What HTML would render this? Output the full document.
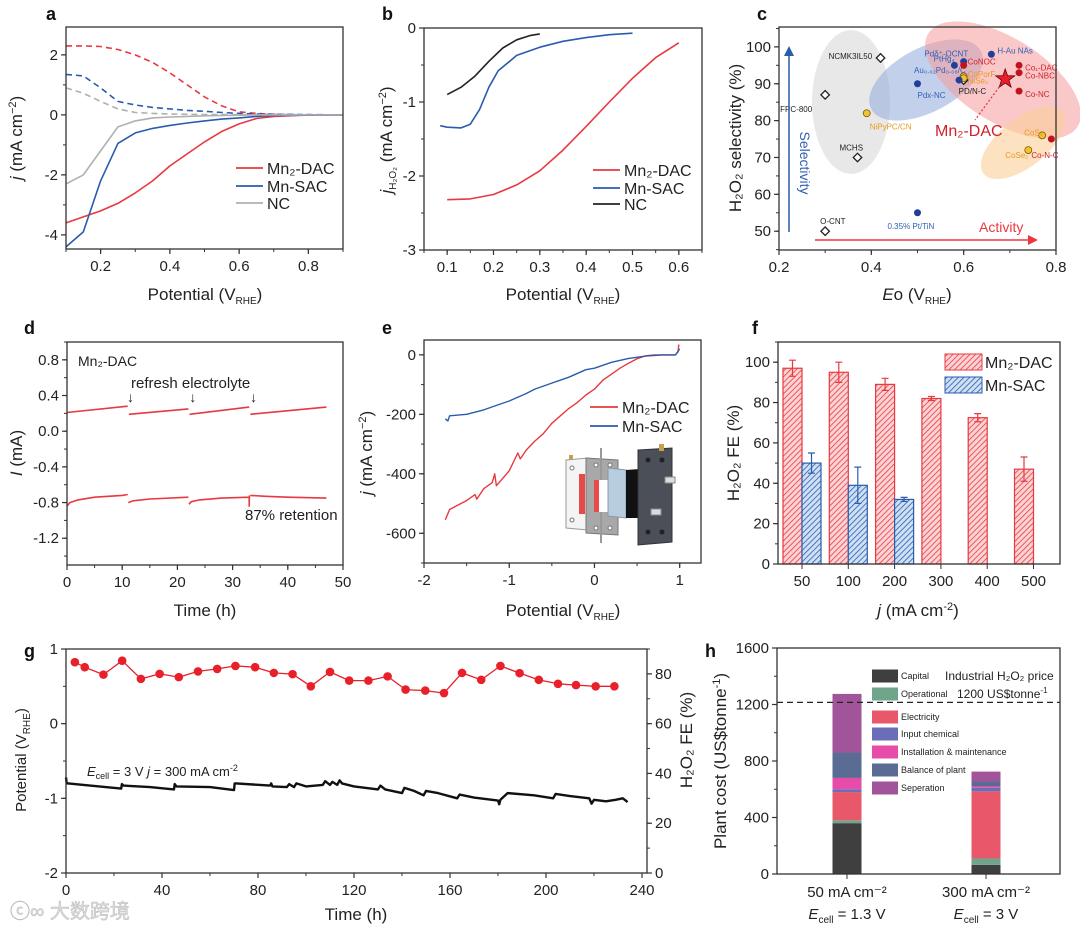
<!DOCTYPE html>
<html><head><meta charset="utf-8">
<style>
html,body{margin:0;padding:0;background:#fff;}
svg{display:block;font-family:"Liberation Sans","Noto Sans CJK SC",sans-serif;}
.tk{font-size:15px;fill:#222;}
.tt{font-size:17px;fill:#222;}
.pl{font-size:18px;font-weight:bold;fill:#111;}
.sm{font-size:7px;}
</style></head>
<body>
<svg id="fig" width="1080" height="937" viewBox="0 0 1080 937" xmlns="http://www.w3.org/2000/svg">
<defs>
<pattern id="hatchR" patternUnits="userSpaceOnUse" width="4" height="4" patternTransform="rotate(45)">
<rect width="4" height="4" fill="#fbd3d5"/><line x1="0" y1="0" x2="0" y2="4" stroke="#e8393f" stroke-width="1.6"/></pattern>
<pattern id="hatchB" patternUnits="userSpaceOnUse" width="4" height="4" patternTransform="rotate(45)">
<rect width="4" height="4" fill="#cfe0f5"/><line x1="0" y1="0" x2="0" y2="4" stroke="#2a5cad" stroke-width="1.6"/></pattern>
</defs>
</svg>
<script>
// ---------- DATA ----------
// panel a
const aX = [0.1,0.15,0.2,0.25,0.3,0.35,0.4,0.45,0.5,0.55,0.6,0.65,0.7,0.8,0.9];
const aDashRed  = [2.3,2.3,2.28,2.18,2.0,1.75,1.4,1.0,0.6,0.3,0.1,0.05,0.02,0,0];
const aDashBlue = [1.35,1.3,0.9,0.45,0.33,0.25,0.2,0.15,0.12,0.08,0.05,0.03,0.02,0.01,0];
const aDashGray = [0.9,0.72,0.45,0.2,0.08,0.05,0.03,0.02,0.01,0.01,0,0,0,0,0];
const aRed  = [-3.6,-3.4,-3.2,-2.95,-2.6,-2.2,-1.7,-1.3,-0.9,-0.55,-0.3,-0.12,-0.05,0,0];
const aBlue = [-4.4,-3.9,-2.2,-0.95,-0.6,-0.45,-0.35,-0.27,-0.2,-0.14,-0.1,-0.05,-0.02,-0.01,0];
const aGray = [-2.3,-2.0,-1.2,-0.4,-0.2,-0.1,-0.07,-0.05,-0.03,-0.02,-0.01,0,0,0,0];
// panel b
const bRedX = [0.1,0.15,0.2,0.25,0.3,0.35,0.4,0.45,0.5,0.55,0.6];
const bRedY = [-2.32,-2.31,-2.25,-2.12,-1.93,-1.65,-1.33,-1.0,-0.68,-0.4,-0.2];
const bBlueX = [0.085,0.1,0.13,0.15,0.17,0.19,0.21,0.25,0.3,0.35,0.4,0.45,0.5];
const bBlueY = [-1.32,-1.34,-1.35,-1.3,-1.1,-0.8,-0.58,-0.37,-0.26,-0.18,-0.13,-0.09,-0.07];
const bBlackX = [0.1,0.13,0.16,0.19,0.22,0.25,0.28,0.3];
const bBlackY = [-0.9,-0.8,-0.65,-0.45,-0.27,-0.16,-0.1,-0.08];
// panel c
const cE0 = [0.42,0.30,0.37,0.30,0.60, 0.39,0.60,0.60,0.77,0.74, 0.66,0.58,0.60,0.59,0.50,0.50, 0.72,0.72,0.72,0.60,0.79];
const cSel = [97,87,70,50,91, 82,92,91.5,76,72, 98,95,96,91,90,55, 95,93,88,95,75];
const cType = ['o','o','o','o','o','y','y','y','y','y','b','b','b','b','b','b','r','r','r','r','r'];
const cLabels = ['NCMK3IL50','FPC-800','MCHS','O-CNT','PD/N-C','NiPyPC/CN','NiSe₂','CoPorF','CoS₂','CoSe₂','H-Au NAs','Pdδ⁺-OCNT','PtHg₄','Au₀.₀₂Pd₀.₀₈/C','Pdx-NC','0.35% Pt/TiN','Co₁-DAC','Co-NBC','Co-NC','CoNOC','Co-N-C'];
const cStarE0 = 0.69, cStarSel = 91.3;
// panel d
const dUpT = [[0,11],[11.2,22],[22.2,33],[33.2,47]];
const dUpV = [[0.21,0.28],[0.19,0.25],[0.19,0.27],[0.19,0.27]];
const dLoT = [[0,0.5,2,5,10,11],[11.1,12,15,22],[22.1,22.5,24,28,33,33,33.05],[33.2,36,40,47]];
const dLoV = [[-0.84,-0.8,-0.77,-0.74,-0.72,-0.71],[-0.8,-0.78,-0.76,-0.74],[-0.82,-0.79,-0.77,-0.75,-0.74,-0.84,-0.72],[-0.72,-0.73,-0.74,-0.75]];
// panel e
const eRedX = [-1.75,-1.7,-1.6,-1.5,-1.4,-1.38,-1.3,-1.2,-1.17,-1.15,-1.0,-0.9,-0.87,-0.8,-0.7,-0.6,-0.5,-0.4,-0.3,-0.2,-0.1,0,0.05,0.1,0.2,0.3,0.4,0.5,0.6,0.7,0.95,0.98,0.99];
const eRedY = [-555,-520,-505,-490,-470,-485,-450,-430,-400,-440,-390,-330,-350,-320,-290,-265,-230,-205,-180,-160,-135,-115,-100,-85,-65,-45,-28,-13,-3,0,0,10,35];
const eBlueX = [-1.75,-1.72,-1.7,-1.5,-1.3,-1.2,-1.0,-0.8,-0.7,-0.5,-0.3,-0.1,0,0.2,0.4,0.6,0.8,0.95,1.0];
const eBlueY = [-215,-222,-205,-200,-185,-175,-155,-130,-115,-95,-75,-50,-45,-25,-12,-4,0,0,20];
// panel f
const fCats = ['50','100','200','300','400','500'];
const fDac = [97,95,89,82,72.5,47];
const fDacErr = [4,5,3,1,2,6];
const fSac = [50,39,32,null,null,null];
const fSacErr = [5,9,1,null,null,null];
// panel g
const gFeT = [3.7,7.8,15.6,23.4,31.2,39,47,55,63,70.6,78.8,86.6,94.4,102,110,118,126,134,141.5,149.7,157.5,165,173,181,189,197,205,212.5,220.7,228.5];
const gFe  = [84.7,82.7,79.7,85.3,78,80,78.7,81,82,83.2,82.7,80.4,79.9,75,80.8,77.3,77.3,79,73.7,73.3,72.3,80.4,77.6,83.2,80.3,77.6,76,75.5,75,75];
const gPotT = [0,0.3,1,10,23,23.3,24,35,45,45.3,46,60,70,70.3,71,85,85.5,86,92,93,95,96,100,107,108,110,111,113,114,115,120,130,131,133,140,141,145,149,150,155,163,164,170,180,180.5,181,184,195,203,204,210,218,219,220,225,229,232,234];
const gPotV = [-0.72,-0.8,-0.8,-0.83,-0.87,-0.81,-0.83,-0.85,-0.88,-0.81,-0.84,-0.85,-0.89,-0.8,-0.8,-0.83,-0.8,-0.84,-0.85,-0.81,-0.85,-0.8,-0.84,-0.82,-0.77,-0.82,-0.78,-0.82,-0.76,-0.8,-0.84,-0.88,-0.83,-0.88,-0.93,-0.86,-0.9,-0.96,-0.9,-0.93,-1.0,-0.95,-0.99,-1.03,-1.08,-1.02,-0.93,-0.96,-1.0,-0.94,-0.97,-1.0,-1.07,-1.02,-1.04,-1.02,-1.0,-1.05];
// panel h
const hCats = ['50 mA cm⁻²','300 mA cm⁻²'];
const hCell = ['1.3 V','3 V'];
const hSeries = ['Capital','Operational','Electricity','Input chemical','Installation & maintenance','Balance of plant','Seperation'];
const hColors = ['#3f3f3f','#6fa58a','#e8586a','#6a6db8','#e64ca8','#5a6b94','#a2549a'];
const hBar50 = [360,20,200,20,80,180,415];
const hBar300 = [65,45,475,25,10,35,70];
const hPrice = 1215;

// ---------- HELPERS ----------
const svg = document.getElementById('fig');
const NS = 'http://www.w3.org/2000/svg';
function mk(tag, attrs, parent){ const e=document.createElementNS(NS,tag); for(const k in attrs) e.setAttribute(k,attrs[k]); (parent||svg).appendChild(e); return e; }
function lin(d0,d1,r0,r1){ return v => r0+(v-d0)*(r1-r0)/(d1-d0); }
function txt(x,y,s,cls,extra,parent){ const t=mk('text',Object.assign({x:x,y:y,class:cls||'tk'},extra||{}),parent); t.textContent=s; return t; }
function poly(xs,ys,fx,fy){ return xs.map((v,i)=>fx(v).toFixed(1)+','+fy(ys[i]).toFixed(1)).join(' '); }
function frame(g,b){ const r=mk('rect',{x:b.l,y:b.t,width:b.r-b.l,height:b.b-b.t,fill:'none',stroke:'#333','stroke-width':1.3},g);
    }
function xTicks(g,b,fx,major,minor,fmt,side){ const y=side==='top'?b.t:b.b;
  minor.forEach(v=>mk('line',{x1:fx(v),x2:fx(v),y1:y,y2:y+3,stroke:'#333'},g));
  major.forEach(v=>{ mk('line',{x1:fx(v),x2:fx(v),y1:y,y2:y+5,stroke:'#333','stroke-width':1.2},g);
    const t=txt(fx(v),b.b+22,fmt(v),'tk',{'text-anchor':'middle'},g);
      }); }
function yTicks(g,b,fy,major,minor,fmt,right){ const x=right?b.r:b.l, d=right?1:-1;
  minor.forEach(v=>mk('line',{x1:x,x2:x+3*d,y1:fy(v),y2:fy(v),stroke:'#333'},g));
  major.forEach(v=>{ mk('line',{x1:x,x2:x+5*d,y1:fy(v),y2:fy(v),stroke:'#333','stroke-width':1.2},g);
    const t=txt(x+8*d,fy(v)+5,fmt(v),'tk',{'text-anchor':right?'start':'end'},g);
      }); }
function range(a,b,s){ const o=[]; for(let v=a; v<=b+1e-9; v+=s) o.push(Math.round(v*1000)/1000); return o; }
function line(g,xs,ys,fx,fy,color,w,dash){ return mk('polyline',{points:poly(xs,ys,fx,fy),fill:'none',stroke:color,'stroke-width':w||1.6,'stroke-dasharray':dash||'none','stroke-linejoin':'round'},g); }
function vtitle(g,x,y,html,rot){ const t=mk('text',{x:0,y:0,class:'tt','text-anchor':'middle',transform:`translate(${x},${y}) rotate(${rot||-90})`},g); t.innerHTML=html; return t; }
function group(name){ const g=mk('g',{});   return g; }
function panelLetter(g,x,y,s){ const t=txt(x,y,s,'pl',{},g);   }
const RED='#e8393f', BLUE='#2a5cad', GRAY='#b0b0b0';
function legendLine(g,x1,x2,y,color,label){ const l=mk('line',{x1:x1,x2:x2,y1:y,y2:y,stroke:color,'stroke-width':1.8},g);
   
  const t=txt(x2+4,y+6,label,'tk',{style:'font-size:16px'},g);   }

// ---------- PANEL A ----------
(function(){
const g=group('panel-a'); const b={l:66,r:343,t:27,b:249};
const fx=lin(0.1,0.9,b.l,b.r), fy=lin(-4.47,2.93,b.b,b.t);
panelLetter(g,46,20,'a');
xTicks(g,b,fx,[0.2,0.4,0.6,0.8],range(0.1,0.9,0.1),v=>v.toFixed(1));
yTicks(g,b,fy,[-4,-2,0,2],range(-4,2,1),v=>String(v));
let s;
s=line(g,aX,aDashRed,fx,fy,RED,1.6,'6,4');  
s=line(g,aX,aDashBlue,fx,fy,BLUE,1.6,'6,4');  
s=line(g,aX,aDashGray,fx,fy,GRAY,1.6,'6,4');  
s=line(g,aX,aRed,fx,fy,RED);  
s=line(g,aX,aBlue,fx,fy,BLUE);  
s=line(g,aX,aGray,fx,fy,GRAY);  
frame(g,b);
legendLine(g,236,263,168,RED,'Mn₂-DAC'); legendLine(g,236,263,186,BLUE,'Mn-SAC'); legendLine(g,236,263,203,GRAY,'NC');
let t=txt(205,300,'','tt',{'text-anchor':'middle'},g); t.innerHTML='Potential (V<tspan font-size="10" dy="4">RHE</tspan><tspan dy="-4">)</tspan>';
 
t=vtitle(g,22,138,'<tspan font-style="italic">j</tspan> (mA cm<tspan font-size="11" dy="-6">−2</tspan><tspan dy="6">)</tspan>');
 
})();

// ---------- PANEL B ----------
(function(){
const g=group('panel-b'); const b={l:424,r:702,t:28,b:250};
const fx=lin(0.05,0.65,b.l,b.r), fy=lin(-3,0,b.b,b.t);
panelLetter(g,382,20,'b');
xTicks(g,b,fx,range(0.1,0.6,0.1),range(0.05,0.65,0.05),v=>v.toFixed(1));
yTicks(g,b,fy,[-3,-2,-1,0],range(-3,0,0.5),v=>String(v));
let s;
s=line(g,bRedX,bRedY,fx,fy,RED);  
s=line(g,bBlueX,bBlueY,fx,fy,BLUE);  
s=line(g,bBlackX,bBlackY,fx,fy,'#222');  
frame(g,b);
legendLine(g,593,620,170,RED,'Mn₂-DAC'); legendLine(g,593,620,188,BLUE,'Mn-SAC'); legendLine(g,593,620,204,'#222','NC');
let t=txt(563,300,'','tt',{'text-anchor':'middle'},g); t.innerHTML='Potential (V<tspan font-size="10" dy="4">RHE</tspan><tspan dy="-4">)</tspan>';
 
t=vtitle(g,392,140,'<tspan font-style="italic">j</tspan><tspan font-size="10" dy="4">H₂O₂</tspan><tspan dy="-4"> (mA cm</tspan><tspan font-size="11" dy="-6">−2</tspan><tspan dy="6">)</tspan>');
 
})();

// ---------- PANEL C ----------
(function(){
const g=group('panel-c'); const b={l:779,r:1056,t:27,b:250};
const fx=lin(0.2,0.8,b.l,b.r), fy=lin(44.9,105.4,b.b,b.t);
panelLetter(g,757,20,'c');
let e;
e=mk('ellipse',{cx:851,cy:102,rx:39,ry:72,fill:'#d9d9d9','fill-opacity':0.6},g);  
e=mk('ellipse',{cx:926,cy:80,rx:62,ry:32,fill:'#8fa9dc','fill-opacity':0.55,transform:'rotate(-28 926 80)'},g);  
e=mk('ellipse',{cx:1003,cy:80,rx:88,ry:42,fill:'#f59a9a','fill-opacity':0.55,transform:'rotate(32 1003 80)'},g);  
e=mk('ellipse',{cx:1023,cy:143,rx:50,ry:24,fill:'#fbcf9a','fill-opacity':0.6,transform:'rotate(-38 1023 143)'},g);  
const fills={o:'#fff',y:'#f2c230',b:'#1f3f9a',r:'#c0141c'}, txc={o:'#222',y:'#e89a20',b:'#2f5fb5',r:'#d0202a'};
const off=[[-52,-2],[-45,14],[-18,-10],[-5,-10],[-5,11],[3,13],[4,4],[4,-4],[-18,-3],[-23,5],[6,-4],[-30,-12],[-30,-3],[-45,-10],[0,11],[-30,13],[6,2],[6,3],[6,3],[4,-4],[-20,16]];
cE0.forEach((v,i)=>{
  const x=fx(v), y=fy(cSel[i]);
  let m;
  if(cType[i]==='o'){ m=mk('rect',{x:x-3,y:y-3,width:6,height:6,fill:'#fff',stroke:'#222','stroke-width':1.3,transform:`rotate(45 ${x} ${y})`},g); }
  else { m=mk('circle',{cx:x,cy:y,r:3.5,fill:fills[cType[i]],stroke:cType[i]==='y'?'#7a5a00':'none','stroke-width':0.8},g); }
   
  const t=txt(x+off[i][0],y+off[i][1]+3,cLabels[i],'tk',{style:'font-size:8px;fill:'+txc[cType[i]]},g);
   
});
const sx=fx(cStarE0), sy=fy(cStarSel);
const pts=[]; for(let k=0;k<10;k++){ const r=k%2?4:10, a=-Math.PI/2+k*Math.PI/5; pts.push((sx+r*Math.cos(a)).toFixed(1)+','+(sy+r*Math.sin(a)).toFixed(1)); }
let st=mk('polygon',{points:pts.join(' '),fill:'#e8202a',stroke:'#6a0000','stroke-width':0.8},g);  
mk('line',{x1:sx-6,y1:sy+8,x2:975,y2:120,stroke:RED,'stroke-width':1.3,'stroke-dasharray':'2,2'},g);
let t=txt(935,136,'Mn₂-DAC','tt',{style:'fill:#d0202a;font-size:16px'},g);  
let ar=mk('line',{x1:789,y1:232,x2:789,y2:54,stroke:'#2a5cad','stroke-width':1.5},g);  
mk('polygon',{points:'784,56 794,56 789,46',fill:'#2a5cad'},g);
ar=mk('line',{x1:815,y1:240,x2:1030,y2:240,stroke:'#e8393f','stroke-width':1.5},g);  
mk('polygon',{points:'1028,235 1028,245 1038,240',fill:'#e8393f'},g);
t=vtitle(g,800,163,'Selectivity',90); t.setAttribute('style','fill:#2f5fb5;font-size:14px');  
t=txt(979,232,'Activity','tt',{style:'fill:#e8393f;font-size:14px'},g);  
xTicks(g,b,fx,[0.2,0.4,0.6,0.8],range(0.2,0.8,0.1),v=>v.toFixed(1));
yTicks(g,b,fy,range(50,100,10),range(45,105,5),v=>String(v));
frame(g,b);
t=txt(917,300,'','tt',{'text-anchor':'middle'},g); t.innerHTML='<tspan font-style="italic">E</tspan>o (V<tspan font-size="10" dy="4">RHE</tspan><tspan dy="-4">)</tspan>';
 
t=vtitle(g,741,138,'H₂O₂ selectivity (%)');  
})();

// ---------- PANEL D ----------
(function(){
const g=group('panel-d'); const b={l:67,r:343,t:342,b:565};
const fx=lin(0,50,b.l,b.r), fy=lin(-1.5,1.0,b.b,b.t);
panelLetter(g,24,334,'d');
xTicks(g,b,fx,range(0,50,10),range(0,50,5),v=>String(v));
yTicks(g,b,fy,[-1.2,-0.8,-0.4,0,0.4,0.8],range(-1.4,1.0,0.2),v=>v.toFixed(1));
dUpT.forEach((ts,i)=>{ const s=line(g,ts,dUpV[i],fx,fy,RED,1.6);   });
dLoT.forEach((ts,i)=>{ const s=line(g,ts,dLoV[i],fx,fy,RED,1.6);   });
frame(g,b);
[11.5,22.8,33.8].forEach(v=>{ const t=txt(fx(v),fy(0.33),'↓','tk',{'text-anchor':'middle',style:'font-size:14px'},g);   });
let t=txt(131,388,'refresh electrolyte','tk',{},g);  
t=txt(78,366,'Mn₂-DAC','tk',{style:'font-size:14px'},g);  
t=txt(245,520,'87% retention','tk',{},g);  
t=txt(205,616,'Time (h)','tt',{'text-anchor':'middle'},g);  
t=vtitle(g,22,453,'<tspan font-style="italic">I</tspan> (mA)');  
})();

// ---------- PANEL E ----------
(function(){
const g=group('panel-e'); const b={l:424,r:701,t:340,b:563};
const fx=lin(-2,1.25,b.l,b.r), fy=lin(-700,50,b.b,b.t);
panelLetter(g,382,334,'e');
xTicks(g,b,fx,[-2,-1,0,1],range(-2,1,0.5),v=>String(v));
yTicks(g,b,fy,[-600,-400,-200,0],range(-700,0,100),v=>String(v));
let s=line(g,eRedX,eRedY,fx,fy,RED,1.4);  
s=line(g,eBlueX,eBlueY,fx,fy,BLUE,1.4);  
frame(g,b);
legendLine(g,590,618,407,RED,'Mn₂-DAC'); legendLine(g,590,618,426,BLUE,'Mn-SAC');
const d=mk('g',{},g);  
mk('rect',{x:569,y:455,width:4,height:6,fill:'#c9a14a'},d);
mk('polygon',{points:'566,460 588,458 588,530 566,528',fill:'#f4f4f4',stroke:'#999'},d);
mk('rect',{x:579,y:474,width:6,height:40,fill:'#e84a4a'},d);
mk('polygon',{points:'586,458 618,460 618,535 586,533',fill:'#a8a8a8',stroke:'#777'},d);
mk('rect',{x:600,y:448,width:2,height:95,fill:'#999'},d);
mk('rect',{x:594,y:480,width:16,height:32,fill:'#fff'},d);
mk('rect',{x:594,y:480,width:5,height:32,fill:'#e84a4a'},d);
mk('polygon',{points:'608,468 626,470 626,518 608,516',fill:'#b8cde0',stroke:'#8899aa'},d);
mk('polygon',{points:'626,470 640,469 640,518 626,518',fill:'#111'},d);
mk('polygon',{points:'638,450 672,448 672,542 638,545',fill:'#4a4f58',stroke:'#333'},d);
mk('rect',{x:659,y:444,width:5,height:7,fill:'#c9a14a'},d);
[[648,460],[662,460],[648,532],[662,532]].forEach(p=>mk('circle',{cx:p[0],cy:p[1],r:2.5,fill:'#222'},d));
[[572,468],[572,520],[596,465],[610,465],[596,528],[610,528]].forEach(p=>mk('circle',{cx:p[0],cy:p[1],r:2,fill:'#fff',stroke:'#777'},d));
mk('rect',{x:665,y:477,width:10,height:6,fill:'#ddd',stroke:'#888'},d);
mk('rect',{x:651,y:509,width:10,height:6,fill:'#ddd',stroke:'#888'},d);
let t=txt(563,616,'','tt',{'text-anchor':'middle'},g); t.innerHTML='Potential (V<tspan font-size="10" dy="4">RHE</tspan><tspan dy="-4">)</tspan>';
 
t=vtitle(g,372,453,'<tspan font-style="italic">j</tspan> (mA cm<tspan font-size="11" dy="-6">−2</tspan><tspan dy="6">)</tspan>');
 
})();

// ---------- PANEL F ----------
(function(){
const g=group('panel-f'); const b={l:778,r:1060,t:342,b:564};
const fy=lin(0,110,b.b,b.t); const band=46.3, c0=802;
const fxc=i=>c0+i*band;
panelLetter(g,752,334,'f');
yTicks(g,b,fy,range(0,100,20),range(0,110,10),v=>String(v));
fCats.forEach((c,i)=>{
  mk('line',{x1:fxc(i),x2:fxc(i),y1:b.b,y2:b.b+5,stroke:'#333'},g);
  const t=txt(fxc(i),b.b+22,c,'tk',{'text-anchor':'middle'},g);  
  let r=mk('rect',{x:fxc(i)-19,y:fy(fDac[i]),width:19,height:fy(0)-fy(fDac[i]),fill:'url(#hatchR)',stroke:RED,'stroke-width':1.2},g);
   
  let eb=mk('path',{d:`M${fxc(i)-9.5},${fy(fDac[i]-fDacErr[i])}V${fy(fDac[i]+fDacErr[i])}M${fxc(i)-13},${fy(fDac[i]+fDacErr[i])}h7M${fxc(i)-13},${fy(fDac[i]-fDacErr[i])}h7`,stroke:RED,'stroke-width':1.2,fill:'none'},g);
   
  if(fSac[i]!==null){
    r=mk('rect',{x:fxc(i),y:fy(fSac[i]),width:19,height:fy(0)-fy(fSac[i]),fill:'url(#hatchB)',stroke:BLUE,'stroke-width':1.2},g);
     
    eb=mk('path',{d:`M${fxc(i)+9.5},${fy(fSac[i]-fSacErr[i])}V${fy(fSac[i]+fSacErr[i])}M${fxc(i)+6},${fy(fSac[i]+fSacErr[i])}h7M${fxc(i)+6},${fy(fSac[i]-fSacErr[i])}h7`,stroke:BLUE,'stroke-width':1.2,fill:'none'},g);
     
  }
});
frame(g,b);
let s=mk('rect',{x:945,y:354,width:37,height:16,fill:'url(#hatchR)',stroke:RED},g);  
s=mk('rect',{x:945,y:377,width:37,height:16,fill:'url(#hatchB)',stroke:BLUE},g);  
let t=txt(985,368,'Mn₂-DAC','tk',{style:'font-size:16px'},g);  
t=txt(985,391,'Mn-SAC','tk',{style:'font-size:16px'},g);  
t=txt(918,616,'','tt',{'text-anchor':'middle'},g); t.innerHTML='<tspan font-style="italic">j</tspan> (mA cm<tspan font-size="11" dy="-6">-2</tspan><tspan dy="6">)</tspan>';
 
t=vtitle(g,739,453,'H₂O₂ FE (%)');  
})();

// ---------- PANEL G ----------
(function(){
const g=group('panel-g'); const b={l:66,r:647,t:649,b:873};
const fx=lin(0,240,b.l,642), fy=lin(-2,1,b.b,b.t), fy2=lin(0,90,b.b,b.t);
panelLetter(g,24,657,'g');
xTicks(g,b,fx,range(0,240,40),range(0,240,20),v=>String(v));
yTicks(g,b,fy,[-2,-1,0,1],range(-2,1,0.5),v=>String(v));
yTicks(g,b,fy2,range(0,80,20),range(0,90,10),v=>String(v),true);
let s=line(g,gPotT,gPotV,fx,fy,'#111',2.4);  
s=line(g,gFeT,gFe,fx,fy2,'#e8202a',1.3);  
gFeT.forEach((v,i)=>{ const c=mk('circle',{cx:fx(v),cy:fy2(gFe[i]),r:4.3,fill:'#e8202a'},g);   });
frame(g,b);
let t=txt(87,776,'','tk',{style:'font-size:13px'},g); t.innerHTML='<tspan font-style="italic">E</tspan><tspan font-size="9" dy="3">cell</tspan><tspan dy="-3"> = 3 V  </tspan><tspan font-style="italic">j</tspan> = 300 mA cm<tspan font-size="9" dy="-5">-2</tspan>';
 
t=txt(356,920,'Time (h)','tt',{'text-anchor':'middle'},g);  
t=vtitle(g,26,760,'Potential (V<tspan font-size="10" dy="4">RHE</tspan><tspan dy="-4">)</tspan>'); t.setAttribute('style','font-size:15px');  
t=vtitle(g,692,740,'H₂O₂ FE (%)');  
t=txt(10,918,'ⓒ∞ 大数跨境','tk',{style:'font-size:20px;fill:#ddd;stroke:#bbb;stroke-width:0.5'},g);  
})();

// ---------- PANEL H ----------
(function(){
const g=group('panel-h'); const b={l:777,r:1060,t:648,b:874};
const fy=lin(0,1600,b.b,b.t); const cx=[847,986]; const bw=29;
panelLetter(g,705,657,'h');
yTicks(g,b,fy,range(0,1600,400),range(0,1600,200),v=>String(v));
[hBar50,hBar300].forEach((vals,j)=>{
  let acc=0;
  vals.forEach((v,k)=>{ const r=mk('rect',{x:cx[j]-bw/2,y:fy(acc+v),width:bw,height:fy(acc)-fy(acc+v),fill:hColors[k]},g);
      acc+=v; });
  mk('line',{x1:cx[j],x2:cx[j],y1:b.b,y2:b.b+5,stroke:'#333'},g);
  let t=txt(cx[j],b.b+23,'','tk',{'text-anchor':'middle'},g); t.textContent=hCats[j];  
  t=txt(cx[j],b.b+45,'','tk',{'text-anchor':'middle'},g); t.innerHTML='<tspan font-style="italic">E</tspan><tspan font-size="10" dy="4">cell</tspan><tspan dy="-4"> = '+hCell[j]+'</tspan>';
   
});
let dl=mk('line',{x1:b.l,x2:b.r,y1:fy(hPrice),y2:fy(hPrice),stroke:'#222','stroke-width':1.3,'stroke-dasharray':'6,4'},g);
 
const ly=[676,694,717,734,752,770,788];
hSeries.forEach((s,k)=>{ const r=mk('rect',{x:872,y:ly[k]-6.5,width:26,height:13,fill:hColors[k]},g);  
  const t=txt(901,ly[k]+3,s,'tk',{style:'font-size:9px'},g);   });
let t=txt(945,680,'Industrial H₂O₂ price','tk',{style:'font-size:12px'},g);  
t=txt(957,698,'','tk',{style:'font-size:12px'},g); t.innerHTML='1200 US$tonne<tspan font-size="8" dy="-5">-1</tspan>';  
frame(g,b);
t=vtitle(g,726,761,'Plant cost (US$tonne<tspan font-size="11" dy="-6">-1</tspan><tspan dy="6">)</tspan>');  
})();
</script>
</body></html>
